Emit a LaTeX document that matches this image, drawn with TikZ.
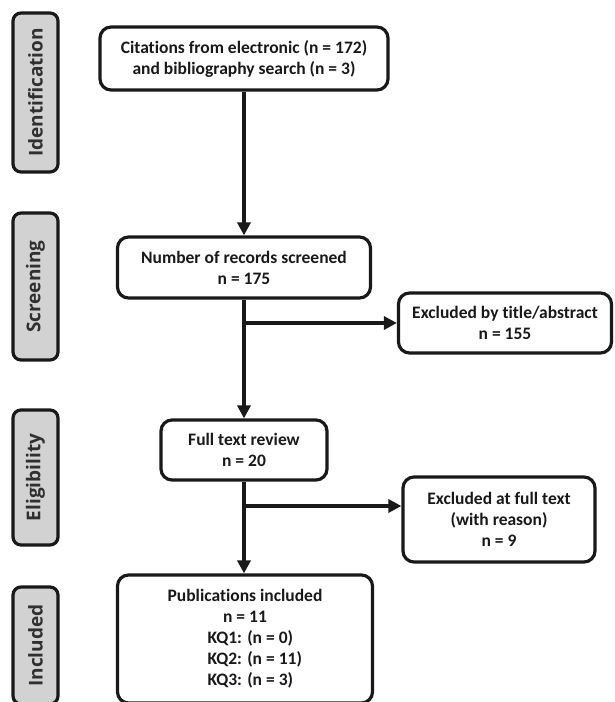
\documentclass[tikz,border=0pt]{standalone}
\usepackage{fontspec}
\setmainfont{Carlito}[Ligatures=NoCommon]
\newfontfamily\labfont{Open Sans}
\usetikzlibrary{arrows.meta}
\definecolor{labgray}{RGB}{210,210,210}
\definecolor{ink}{RGB}{25,25,25}
\begin{document}
\begin{tikzpicture}[x=1pt,y=-1pt,
  stage/.style={draw=ink, line width=3.2pt, rounded corners=8pt, fill=labgray, rotate=90,
    minimum height=45pt, inner sep=0pt, font=\labfont\bfseries\fontsize{19}{23}\selectfont, text=ink!90},
  box/.style={draw=ink, line width=3.2pt, rounded corners=11pt, fill=white, align=center,
    inner sep=0pt, font=\bfseries\fontsize{17.5}{21}\selectfont, text=ink},
  flow/.style={draw=ink, line width=3.2pt, -{Triangle[length=13pt,width=13pt]}}]
\useasboundingbox (0,0) rectangle (614,702);
\clip (0,0) rectangle (614,702);
% stage labels
\node[stage, minimum width=159pt] (s1) at (35.5,92.5) {Identification};
\node[stage, minimum width=147pt] (s2) at (35.5,286.5) {Screening};
\node[stage, minimum width=135pt] (s3) at (35.5,477.5) {Eligibility};
\node[stage, minimum width=117pt] (s4) at (35.5,645.5) {Included};
% flow boxes
\node[box, minimum width=288pt, minimum height=63pt] (cit) at (244,58.5)
  {Citations from electronic (n = 172)\\and bibliography search (n = 3)};
\node[box, minimum width=253pt, minimum height=61pt] (rec) at (244,267.5)
  {Number of records screened\\n = 175};
\node[box, minimum width=213pt, minimum height=60pt] (ext) at (505,323)
  {Excluded by title/abstract\\n = 155};
\node[box, minimum width=166pt, minimum height=60pt] (ful) at (244,450)
  {Full text review\\n = 20};
\node[box, minimum width=192pt, minimum height=85pt] (exf) at (499,519.5)
  {Excluded at full text\\(with reason)\\n = 9};
\node[box, minimum width=255pt, minimum height=128pt] (pub) at (245,639)
  {Publications included\\n = 11\\
   \hspace*{20pt}\makebox[95pt][l]{KQ1: (n = 0)}\\
   \hspace*{20pt}\makebox[95pt][l]{KQ2: (n = 11)}\\
   \hspace*{20pt}\makebox[95pt][l]{KQ3: (n = 3)}};
% connectors
\draw[flow] (cit.south) -- (cit.south |- rec.north);
\draw[flow] (rec.south) -- (rec.south |- ful.north);
\draw[flow] (ful.south) -- (ful.south |- pub.north);
\coordinate (b1) at (244,323);
\coordinate (b2) at (244,506);
\draw[flow] (b1) -- (b1 -| ext.west);
\draw[flow] (b2) -- (b2 -| exf.west);
\end{tikzpicture}
\end{document}
